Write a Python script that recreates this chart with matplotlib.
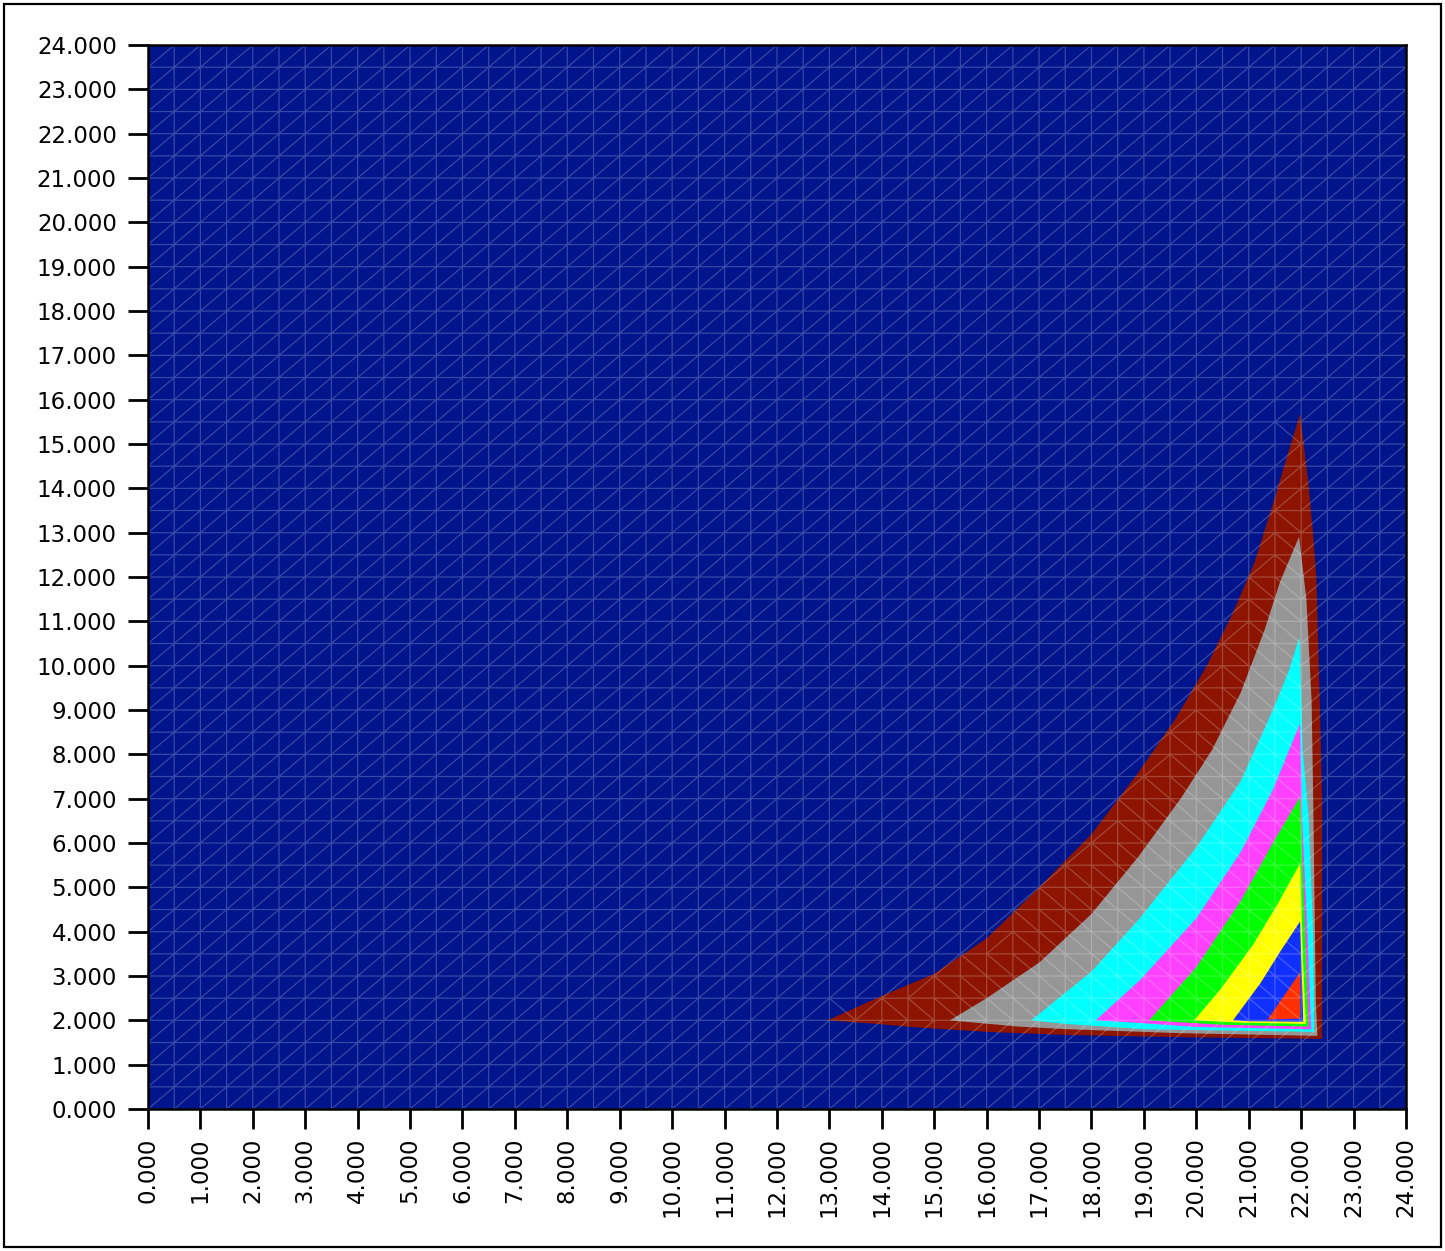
import numpy as np
import matplotlib
matplotlib.use("Agg")
import matplotlib.pyplot as plt
import matplotlib.tri as mtri
from matplotlib.path import Path
from matplotlib.patches import Rectangle
from matplotlib.ticker import FormatStrFormatter

# contour band outlines (outer band first)
darkred_x = [12.96, 14.0, 15.0, 16.0, 17.0, 18.0, 18.9, 19.6, 20.2, 20.7, 21.1, 21.45, 21.7,
             21.98, 22.14, 22.23, 22.29, 22.35, 22.4, 22.4, 19.7, 17.54, 16.0, 14.54, 13.9]
darkred_y = [2.0, 2.55, 3.05, 3.85, 5.0, 6.2, 7.6, 8.8, 10.0, 11.2, 12.3, 13.6, 14.6,
             15.68, 14.09, 12.95, 12.0, 9.46, 7.0, 1.58, 1.62, 1.67, 1.74, 1.85, 1.92]

gray_x = [15.3, 16.0, 17.0, 18.0, 18.9, 19.7, 20.3, 20.85, 21.3, 21.6, 21.96,
          22.1, 22.2, 22.23, 22.28, 22.31, 19.7, 17.54, 16.6]
gray_y = [2.0, 2.5, 3.3, 4.4, 5.7, 7.0, 8.1, 9.4, 10.8, 11.9, 12.91,
          11.5, 9.2, 7.0, 2.45, 1.65, 1.71, 1.8, 1.86]

cyan_x = [16.85, 18.0, 18.92, 20.0, 20.85, 21.46, 21.77, 21.97, 22.03, 22.14, 22.23, 22.25, 19.0, 17.5]
cyan_y = [2.0, 3.1, 4.3, 5.9, 7.4, 9.0, 9.9, 10.65, 8.1, 6.6, 3.96, 1.74, 1.8, 1.92]

magenta_x = [18.08, 18.92, 20.0, 20.85, 21.46, 21.98, 22.02, 22.12, 22.19, 20.0, 18.8]
magenta_y = [2.0, 2.9, 4.3, 5.8, 7.2, 8.7, 6.5, 4.0, 1.8, 1.85, 1.95]

green_x = [19.1, 20.0, 20.85, 21.46, 21.98, 22.06, 22.14, 20.5]
green_y = [2.0, 3.2, 4.7, 6.0, 7.04, 4.5, 1.86, 1.9]

yellow_x = [19.96, 20.46, 21.08, 21.54, 21.98, 22.03, 22.09, 20.8]
yellow_y = [2.0, 2.7, 3.7, 4.6, 5.54, 3.5, 1.92, 1.95]

blue_x = [20.7, 21.23, 21.6, 21.98, 22.04, 21.0]
blue_y = [2.0, 2.85, 3.55, 4.23, 1.97, 1.98]

red_x = [21.35, 21.7, 21.98, 21.98, 21.4]
red_y = [2.0, 2.6, 3.08, 2.04, 2.02]

bands = [(darkred_x, darkred_y, "#8C1400"), (gray_x, gray_y, "#969696"),
         (cyan_x, cyan_y, "#00FFFF"), (magenta_x, magenta_y, "#FF40FF"),
         (green_x, green_y, "#00FF00"), (yellow_x, yellow_y, "#FFFF00"),
         (blue_x, blue_y, "#1030FF"), (red_x, red_y, "#FF3000")]

ticks = np.arange(0, 25)
mesh_step = 0.5

fig = plt.figure(figsize=(14.45, 12.51), dpi=100)
ax = fig.add_axes([0.1024, 0.1135, 0.8706, 0.8505])
ax.set_facecolor("#00148C")

for bx, by, col in bands:
    ax.fill(bx, by, color=col, lw=0, zorder=1)

# triangulated mesh, diagonals flipped inside the active region
nodes = np.arange(0, 24 + mesh_step / 2, mesh_step)
n = len(nodes)
gx, gy = np.meshgrid(nodes, nodes)
outer = Path(np.column_stack([darkred_x, darkred_y]))
tris = []
for j in range(n - 1):
    for i in range(n - 1):
        p00 = j * n + i
        p10 = p00 + 1
        p01 = p00 + n
        p11 = p01 + 1
        cx, cy = nodes[i] + mesh_step / 2, nodes[j] + mesh_step / 2
        if outer.contains_point((cx, cy), radius=0.6):
            tris += [[p00, p10, p01], [p10, p11, p01]]
        else:
            tris += [[p00, p10, p11], [p00, p11, p01]]
tri = mtri.Triangulation(gx.ravel(), gy.ravel(), np.array(tris))
ax.triplot(tri, color="white", alpha=0.22, lw=0.9, zorder=3)

ax.set_xlim(0, 24)
ax.set_ylim(0, 24)
ax.set_xticks(ticks)
ax.set_yticks(ticks)
ax.xaxis.set_major_formatter(FormatStrFormatter("%.3f"))
ax.yaxis.set_major_formatter(FormatStrFormatter("%.3f"))
ax.tick_params(direction="out", length=14.4, width=2.0, labelsize=16.5, color="black")
ax.tick_params(axis="x", labelrotation=90, pad=6)
ax.tick_params(axis="y", pad=8)
for s in ax.spines.values():
    s.set_linewidth(1.8)
    s.set_zorder(10)

fig.patches.append(Rectangle((0.003, 0.003), 0.994, 0.994, transform=fig.transFigure,
                             fill=False, lw=1.6, ec="black"))

fig.savefig("out.png", dpi=100)
